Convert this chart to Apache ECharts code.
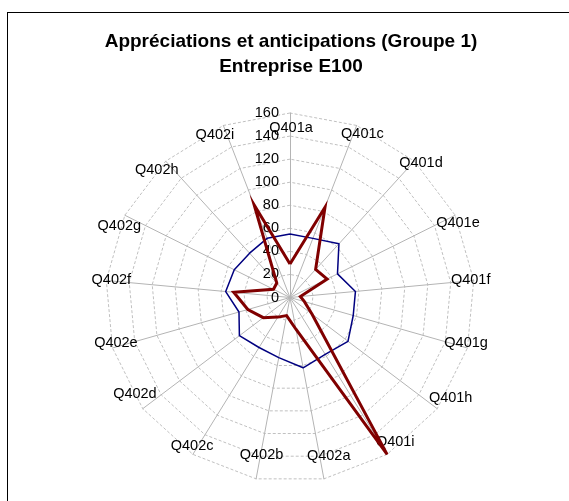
<!DOCTYPE html>
<html>
<head>
<meta charset="utf-8">
<script src="https://cdn.jsdelivr.net/npm/echarts@6/dist/echarts.min.js"></script>
<style>
  html, body { margin: 0; padding: 0; background: #fff; overflow: hidden; }
  #frame { position: absolute; left: 7px; top: 12px; width: 620px; height: 620px; border: 1px solid #000; }
  #chart { position: absolute; left: 0; top: 0; width: 569px; height: 501px; }
</style>
</head>
<body>
<div id="frame"></div>
<div id="chart"></div>
<script>
// Questions, listed clockwise starting at the top
const categories = ['Q401a', 'Q401c', 'Q401d', 'Q401e', 'Q401f', 'Q401g', 'Q401h', 'Q401i',
                    'Q402a', 'Q402b', 'Q402c', 'Q402d', 'Q402e', 'Q402f', 'Q402g', 'Q402h', 'Q402i'];
// Value scale ticks
const valueTicks = [0, 20, 40, 60, 80, 100, 120, 140, 160];
// Reference profile (thin navy line)
const referenceValues = [55, 55, 63, 46, 57, 57, 63, 58, 62, 53, 51, 55, 46, 56, 54, 52, 55];
// Company E100 (thick dark red line)
const companyValues = [29, 84, 33, 36, 9, 13, 24, 160, 28, 16, 20, 29, 38, 49, 16, 17, 86];

// Label placement (layout only): radial gap from the outer ring, then a horizontal shift
const nameGaps   = [-15, -9, -2, -17, 0, -17, -17, -15, -23, -24, -10, -24, -17, 0, -24, -12, -10];
const nameShifts = [1, 9, 8, 18, -3, 15, 27, 16, 9, 1, -6, -27, -13, 5, -27, -17, -12];

// ECharts lays radar indicators out counter-clockwise; reorder so they run clockwise.
const order = [0];
for (let i = categories.length - 1; i >= 1; i--) order.push(i);

const vMin = valueTicks[0];
const vMax = valueTicks[valueTicks.length - 1];
const labelFont = 'Liberation Sans, Arial, sans-serif';

const indicator = order.map(function (i) {
  const s = nameShifts[i];
  const ind = {
    name: categories[i], min: vMin, max: vMax,
    nameGap: nameGaps[i],
    nameMoveOverlap: false,
    nameTextStyle: { padding: [0, Math.max(0, -2 * s), 0, Math.max(0, 2 * s)] }
  };
  if (i === 0) {
    ind.axisLabel = {
      show: true, color: '#000', fontSize: 14.5, fontFamily: labelFont, margin: 11
    };
  }
  return ind;
});

const chart = echarts.init(document.getElementById('chart'), null, { renderer: 'canvas' });
chart.setOption({
  animation: false,
  backgroundColor: 'transparent',
  title: {
    text: 'Appréciations et anticipations (Groupe 1)\nEntreprise E100',
    left: 286,
    top: 24,
    textAlign: 'center',
    textStyle: {
      fontFamily: labelFont, fontSize: 19, fontWeight: 'bold', color: '#000', lineHeight: 25
    }
  },
  radar: {
    center: [290, 297.5],
    radius: 184.5,
    startAngle: 90,
    splitNumber: valueTicks.length - 1,
    shape: 'polygon',
    indicator: indicator,
    axisName: {
      color: '#000', fontSize: 14.5, fontFamily: labelFont, align: 'center', verticalAlign: 'middle'
    },
    axisLine: { lineStyle: { color: '#b4b4b4', width: 1 } },
    splitLine: { lineStyle: { color: '#c0c0c0', width: 1, type: [3, 2] } },
    splitArea: { show: false },
    axisTick: { show: false },
    axisLabel: { show: false }
  },
  series: [{
    type: 'radar',
    symbol: 'none',
    silent: true,
    data: [
      {
        name: 'Référence',
        value: order.map(function (i) { return referenceValues[i]; }),
        lineStyle: { color: '#000080', width: 1.5 },
        itemStyle: { color: '#000080' }
      },
      {
        name: 'E100',
        value: order.map(function (i) { return companyValues[i]; }),
        lineStyle: { color: '#800000', width: 3, join: 'miter', miterLimit: 10 },
        itemStyle: { color: '#800000' }
      }
    ]
  }]
});
</script>
</body>
</html>
